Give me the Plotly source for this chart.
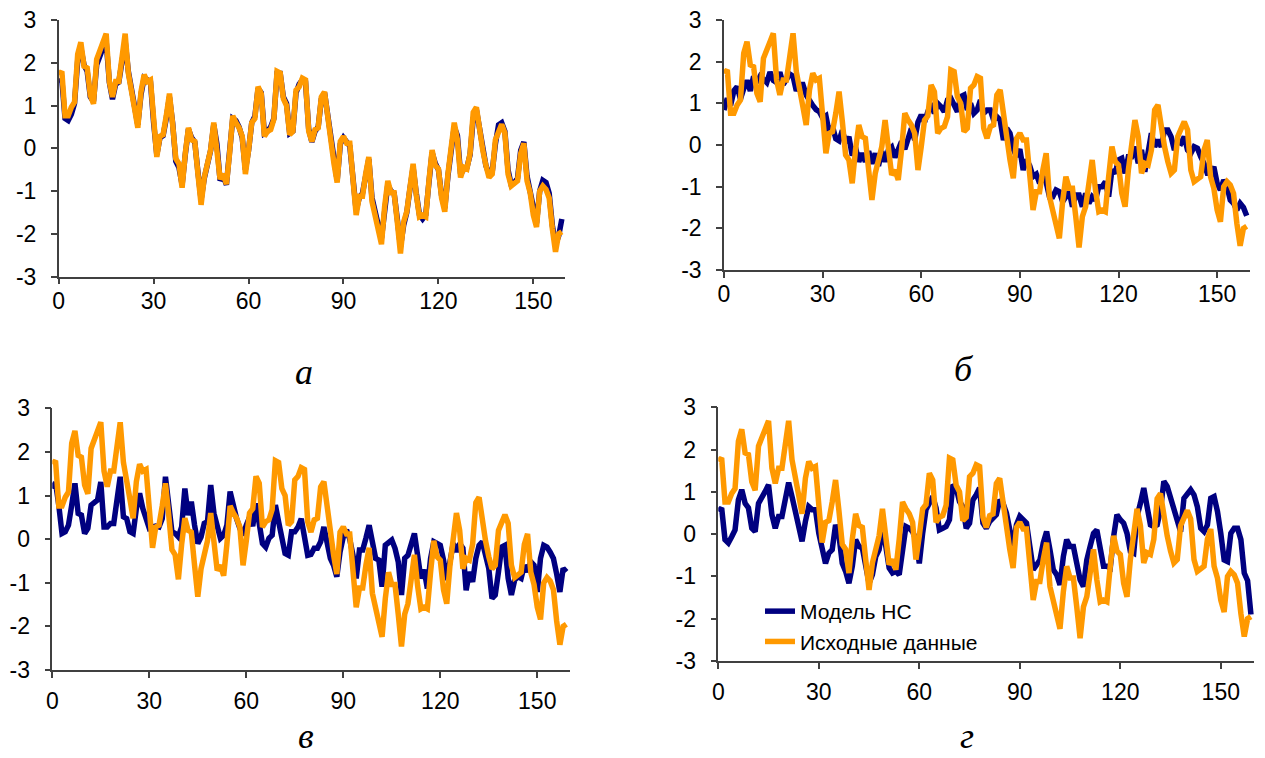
import plotly.graph_objects as go

# ---------------- data ----------------
x_index = list(range(160))

source_data = [
    1.72, 1.80, 0.76, 0.76, 0.96, 1.08, 2.20, 2.48, 1.92, 1.88,
    1.24, 1.04, 2.08, 2.32, 2.48, 2.68, 1.56, 1.20, 1.56, 1.56,
    2.20, 2.68, 1.76, 1.40, 0.92, 0.48, 1.32, 1.72, 1.56, 1.60,
    0.60, -0.20, 0.28, 0.32, 0.76, 1.28, 0.56, -0.24, -0.36, -0.92,
    -0.12, 0.48, 0.20, 0.16, -0.60, -1.32, -0.68, -0.36, -0.04, 0.60,
    0.04, -0.72, -0.60, -0.84, -0.12, 0.76, 0.60, 0.48, 0.28, -0.60,
    -0.04, 0.60, 0.70, 1.44, 1.28, 0.28, 0.40, 0.44, 0.68, 1.80,
    1.76, 1.16, 1.00, 0.32, 0.40, 1.36, 1.44, 1.64, 1.60, 0.40,
    0.16, 0.44, 0.48, 1.20, 1.32, 0.68, 0.24, -0.36, -0.80, 0.16,
    0.28, 0.12, 0.12, -0.76, -1.56, -1.12, -1.12, -0.60, -0.20, -1.24,
    -1.56, -1.88, -2.24, -1.36, -0.76, -1.04, -1.04, -1.72, -2.46, -1.72,
    -1.48, -0.92, -0.36, -1.08, -1.60, -1.56, -1.60, -0.76, -0.04, -0.40,
    -0.48, -1.16, -1.48, -0.60, -0.08, 0.60, 0.20, -0.68, -0.44, -0.48,
    -0.12, 0.84, 0.96, 0.36, -0.04, -0.40, -0.68, -0.60, 0.20, 0.38,
    0.56, 0.36, -0.60, -0.88, -0.80, -0.76, -0.12, 0.12, -0.76, -1.04,
    -1.56, -1.84, -1.00, -0.88, -0.96, -1.16, -1.88, -2.42, -2.00, -1.95,
]

model_a = [
    1.55, 1.60, 0.70, 0.65, 0.80, 1.05, 2.05, 2.35, 1.95, 1.80,
    1.20, 1.10, 1.95, 2.20, 2.35, 2.50, 1.55, 1.15, 1.50, 1.55,
    2.05, 2.50, 1.80, 1.40, 0.95, 0.55, 1.25, 1.65, 1.60, 1.55,
    0.60, -0.15, 0.25, 0.30, 0.70, 1.20, 0.60, -0.30, -0.45, -0.85,
    -0.15, 0.45, 0.25, 0.15, -0.55, -1.20, -0.70, -0.40, -0.05, 0.55,
    0.10, -0.75, -0.65, -0.85, -0.20, 0.70, 0.65, 0.50, 0.25, -0.50,
    -0.05, 0.60, 0.75, 1.40, 1.30, 0.35, 0.40, 0.50, 0.70, 1.75,
    1.75, 1.20, 1.05, 0.35, 0.40, 1.30, 1.50, 1.60, 1.55, 0.45,
    0.15, 0.40, 0.50, 1.15, 1.30, 0.75, 0.25, -0.30, -0.75, 0.10,
    0.25, 0.15, 0.05, -0.70, -1.45, -1.15, -1.05, -0.65, -0.25, -1.15,
    -1.55, -1.80, -2.10, -1.40, -0.85, -1.00, -1.05, -1.65, -2.30, -1.80,
    -1.50, -0.95, -0.45, -1.05, -1.55, -1.65, -1.55, -0.80, -0.10, -0.35,
    -0.50, -1.10, -1.40, -0.65, -0.15, 0.50, 0.30, -0.60, -0.50, -0.45,
    -0.15, 0.70, 0.90, 0.40, 0.00, -0.40, -0.60, -0.55, 0.10, 0.55,
    0.60, 0.40, -0.50, -0.85, -0.80, -0.70, -0.05, 0.15, -0.65, -1.05,
    -1.50, -1.75, -1.00, -0.75, -0.80, -1.05, -1.80, -2.25, -2.05, -1.65,
]

model_b = [
    0.84, 1.12, 0.95, 1.30, 1.40, 1.10, 1.35, 1.55, 1.30, 1.65,
    1.50, 1.65, 1.58, 1.50, 1.75, 1.55, 1.50, 1.75, 1.45, 1.55,
    1.70, 1.65, 1.30, 1.45, 1.45, 1.20, 1.05, 0.95, 0.85, 0.80,
    0.65, 0.70, 0.30, 0.45, 0.15, 0.10, 0.35, 0.05, 0.20, -0.25,
    -0.05, -0.40, -0.20, -0.40, -0.15, -0.45, -0.20, -0.50, -0.15, -0.40,
    -0.12, -0.05, -0.30, -0.10, 0.08, -0.10, 0.20, 0.40, 0.12, 0.55,
    0.72, 0.55, 0.80, 1.00, 0.76, 1.00, 0.92, 0.80, 1.08, 1.12,
    0.96, 0.80, 1.16, 1.20, 0.84, 1.00, 0.76, 0.84, 1.08, 0.76,
    0.84, 0.84, 0.60, 0.68, 0.60, 0.12, 0.40, 0.28, -0.10, -0.28,
    -0.10, -0.60, -0.35, -0.50, -0.76, -0.70, -0.92, -0.76, -0.90, -1.24,
    -1.24, -1.08, -1.12, -1.36, -1.24, -1.12, -1.48, -1.20, -1.20, -1.48,
    -1.16, -1.40, -1.24, -1.32, -1.00, -1.00, -0.88, -1.24, -0.60, -0.68,
    -0.36, -0.32, -0.68, -0.28, -0.28, -0.04, -0.44, -0.12, -0.64, -0.12,
    0.28, -0.04, 0.12, -0.04, 0.36, 0.36, 0.20, -0.12, 0.08, 0.04,
    0.20, -0.12, -0.20, -0.04, -0.08, -0.28, -0.44, -0.68, -0.68, -0.52,
    -0.92, -1.08, -0.84, -1.00, -1.32, -1.40, -1.56, -1.40, -1.50, -1.70,
]

model_c = [
    1.16, 1.30, 0.78, 0.13, 0.17, 0.32, 0.78, 1.28, 0.59, 0.55,
    0.13, 0.25, 0.78, 0.84, 0.90, 1.31, 0.28, 0.28, 0.36, 0.36,
    1.00, 1.43, 0.51, 0.47, 0.17, 0.13, 0.70, 1.05, 0.70, 0.50,
    0.25, 0.28, 0.30, 0.28, 0.47, 1.43, 0.90, 0.17, 0.13, 0.05,
    0.28, 1.16, 0.55, 0.86, 0.32, -0.10, 0.05, 0.36, 0.40, 1.24,
    0.59, 0.32, 0.02, 0.09, 0.32, 1.09, 0.74, 0.47, 0.25, 0.09,
    0.32, 0.50, 0.30, 0.82, 0.36, -0.10, -0.18, 0.02, 0.09, 0.78,
    0.40, 0.02, -0.33, -0.37, 0.17, 0.17, 0.28, 0.47, 0.10, -0.37,
    -0.35, -0.21, -0.21, -0.06, 0.28, -0.06, -0.44, -0.60, -0.86, -0.29,
    0.05, 0.21, 0.00, -0.37, -0.90, -0.25, -0.25, 0.02, 0.32, -0.06,
    -0.44, -0.48, -1.09, -0.14, -0.06, -0.02, -0.21, -0.52, -1.28, -0.44,
    -0.37, -0.06, 0.13, -0.37, -0.90, -0.70, -1.13, -0.44, -0.06, -0.10,
    -0.14, -0.48, -0.94, -0.52, -0.10, -0.29, -0.10, -0.21, -1.17, -0.75,
    -0.98, -0.44, -0.14, -0.06, -0.44, -0.67, -1.36, -1.28, -0.75, -0.18,
    -0.14, -0.90, -1.28, -0.94, -0.86, -0.90, -0.60, -0.75, -0.52, -0.60,
    -1.21, -0.44, -0.14, -0.18, -0.30, -0.44, -0.80, -1.21, -0.67, -0.75,
]

model_d = [
    0.54, 0.62, -0.13, -0.21, -0.06, 0.10, 0.81, 1.05, 0.73, 0.62,
    0.14, 0.06, 0.73, 0.85, 1.01, 1.17, 0.46, 0.14, 0.42, 0.42,
    0.81, 1.22, 0.89, 0.50, 0.10, -0.17, 0.30, 0.65, 0.58, 0.58,
    0.02, -0.29, -0.69, -0.45, -0.37, 0.22, -0.02, -0.69, -0.88, -1.16,
    -0.76, -0.13, -0.29, -0.33, -0.84, -1.16, -0.96, -0.53, -0.37, 0.18,
    -0.29, -0.80, -0.92, -0.88, -0.96, -0.37, 0.18, 0.14, 0.06, -0.13,
    -0.69, 0.02, 0.58, 0.73, 0.89, 0.62, 0.10, 0.14, 0.18, 0.34,
    1.17, 1.09, 0.77, 0.65, 0.14, 0.26, 0.81, 0.93, 1.09, 0.26,
    0.14, 0.30, 0.38, 0.46, 0.81, 0.73, 0.50, 0.10, -0.29, 0.22,
    0.42, 0.34, 0.26, -0.29, -0.84, -0.73, -0.61, -0.21, 0.06, -0.37,
    -0.84, -0.96, -1.20, -0.53, -0.13, -0.29, -0.29, -0.69, -1.08, -1.24,
    -0.61, -0.29, 0.02, 0.10, -0.37, -0.76, -0.76, -0.80, -0.06, 0.46,
    0.34, 0.26, 0.02, -0.41, -0.45, 0.42, 0.73, 1.09, 0.65, 0.22,
    0.18, 0.22, 0.58, 1.25, 1.13, 0.85, 0.58, 0.30, 0.06, 0.85,
    0.93, 1.05, 0.93, 0.65, 0.14, 0.06, 0.22, 0.85, 0.89, 0.54,
    0.02, -0.61, -0.65, 0.02, 0.14, 0.14, -0.13, -0.92, -1.10, -1.90,
]

models = [model_a, model_b, model_c, model_d]
panel_labels = ["а", "б", "в", "г"]
series_names = ["Модель НС", "Исходные данные"]
x_tick_values = [0, 30, 60, 90, 120, 150]
x_tick_labels = ["0", "30", "60", "90", "120", "150"]
y_tick_values = [-3, -2, -1, 0, 1, 2, 3]
y_tick_labels = ["-3", "-2", "-1", "0", "1", "2", "3"]

# ---------------- layout geometry ----------------
# The page body has an 8px default margin, so the figure is offset by OFF px.
OFF = 8
W, H = 1265 - OFF, 758 - OFF
NAVY = "#000080"
ORANGE = "#FF9900"


def px(xp):
    return (xp - OFF) / W


def py(yp):
    return 1 - (yp - OFF) / H


# page-pixel boxes of each plot area: (left, right, top, bottom)
boxes = [
    (58.7, 565.0, 20.0, 276.7),
    (724.0, 1250.0, 20.0, 270.0),
    (52.3, 569.6, 408.3, 670.0),
    (718.3, 1254.3, 407.3, 661.0),
]
x_label_standoff = [-3, -3, 4, 4]
label_pos = [(304, 372), (964, 369), (306, 736), (967, 736)]

fig = go.Figure()
tick_font = dict(family="Liberation Sans, Arial, sans-serif", size=23, color="#000000")

for k in range(4):
    sfx = "" if k == 0 else str(k + 1)
    xa, ya = "x" + sfx, "y" + sfx
    show = (k == 3)
    fig.add_trace(go.Scatter(
        x=x_index, y=models[k], mode="lines", name=series_names[0],
        line=dict(color=NAVY, width=5.5), xaxis=xa, yaxis=ya,
        showlegend=show, hoverinfo="skip"))
    fig.add_trace(go.Scatter(
        x=x_index, y=source_data, mode="lines", name=series_names[1],
        line=dict(color=ORANGE, width=5.5), xaxis=xa, yaxis=ya,
        showlegend=show, hoverinfo="skip"))

    l, r, t, b = boxes[k]
    axis_common = dict(
        showline=True, linecolor="#404040", linewidth=1.5,
        ticks="outside", ticklen=6, tickwidth=1.5, tickcolor="#404040",
        showgrid=False, zeroline=False, tickfont=tick_font, fixedrange=True,
        automargin=False, ticklabeloverflow="allow",
    )
    fig.layout["xaxis" + sfx] = dict(
        domain=[px(l), px(r)], range=[0, 160], anchor=ya,
        tickvals=x_tick_values, ticktext=x_tick_labels,
        ticklabelstandoff=x_label_standoff[k], **axis_common)
    fig.layout["yaxis" + sfx] = dict(
        domain=[py(b), py(t)], range=[-3, 3], anchor=xa,
        tickvals=y_tick_values, ticktext=y_tick_labels,
        ticklabelstandoff=10, **axis_common)

    lx, ly = label_pos[k]
    fig.add_annotation(
        x=px(lx), y=py(ly), xref="paper", yref="paper",
        text=panel_labels[k], showarrow=False,
        font=dict(family="Liberation Serif, Times New Roman, serif", size=36,
                  color="#000000", style="italic"),
        xanchor="center", yanchor="middle")

fig.update_layout(
    width=W, height=H,
    margin=dict(l=0, r=0, t=0, b=0, autoexpand=False),
    paper_bgcolor="#FFFFFF", plot_bgcolor="#FFFFFF",
    legend=dict(
        x=px(760), y=py(591), xanchor="left", yanchor="top",
        bgcolor="rgba(0,0,0,0)", borderwidth=0,
        font=dict(family="Liberation Sans, Arial, sans-serif", size=21, color="#000000"),
        tracegroupgap=0, itemwidth=30,
    ),
)

fig.write_html("out.html")
